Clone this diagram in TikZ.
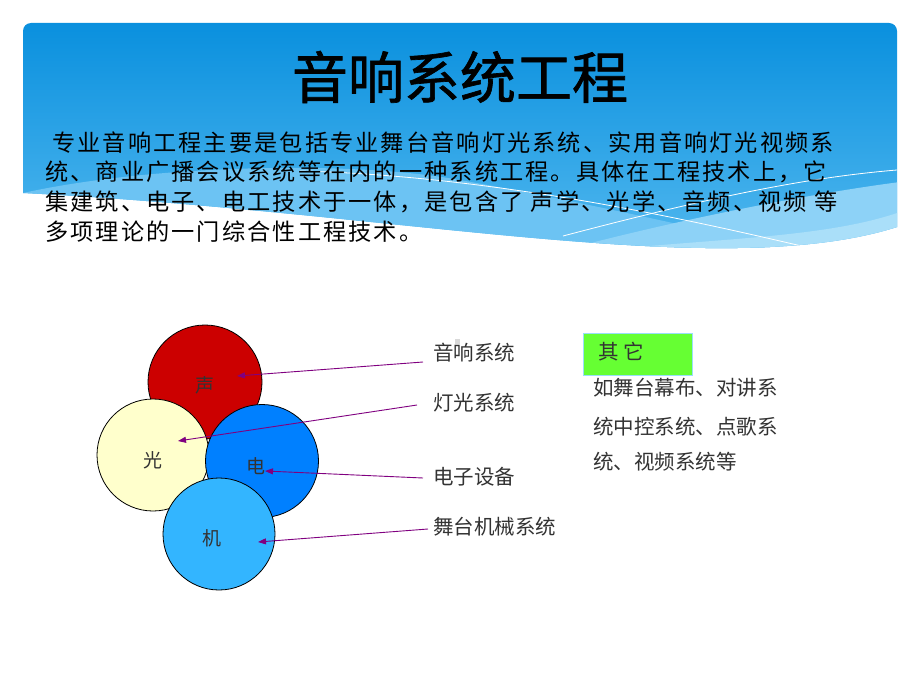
\documentclass[tikz,border=0pt]{standalone}
\usepackage{fontspec}
\setmainfont{Noto Sans CJK SC}
\newfontfamily\titlefont[FakeBold=1.2]{Noto Sans CJK SC}
\newfontfamily\bodyfont[LetterSpace=9]{Noto Sans CJK SC}
\usetikzlibrary{arrows.meta}
\definecolor{bannertop}{HTML}{0A90DE}
\definecolor{bannerbot}{HTML}{5ABDF1}
\definecolor{bandA}{HTML}{6CC3F3}
\definecolor{bandB}{HTML}{8DD2F7}
\definecolor{bandC}{HTML}{AADFF9}
\definecolor{cred}{HTML}{CC0000}
\definecolor{cyellow}{HTML}{FFFFCC}
\definecolor{cblue}{HTML}{0080FF}
\definecolor{clight}{HTML}{33B5FF}
\definecolor{arrowc}{HTML}{800080}
\definecolor{labelc}{HTML}{333333}
\definecolor{greenbox}{HTML}{66FF33}
\tikzset{
  circ/.style={circle, draw=black, line width=0.8pt, minimum size=#1, inner sep=0pt},
  ctext/.style={font=\fontsize{19}{21}\selectfont, text=labelc},
  lab/.style={anchor=west, font=\fontsize{20.5}{22}\selectfont, text=labelc, inner sep=0pt},
  body/.style={anchor=west, font=\bodyfont\fontsize{23.2}{27}\selectfont, inner sep=0pt},
  pointer/.style={draw=arrowc, line width=0.9pt, -{Triangle[length=8pt,width=6pt]}},
  other/.style={anchor=west, font=\fontsize{20.5}{22}\selectfont, text=labelc, inner sep=0pt},
}
\begin{document}
\begin{tikzpicture}[x=1pt,y=-1pt]
\useasboundingbox (0,0) rectangle (920,690);
\fill[white] (0,0) rectangle (920,690);
% banner
\def\bannerpath{(23,193) -- (23,31) arc(180:270:8) -- (889,23) arc(270:360:8) -- (897,227) .. controls (720,283) and (400,212) .. (23,193) -- cycle}
\shade[top color=bannertop, bottom color=bannerbot] \bannerpath;
\begin{scope}
\clip \bannerpath;
\fill[bandA] (23,193) .. controls (150,165) and (350,160) .. (460,180) .. controls (600,205) and (750,240) .. (840,262) -- (900,300) -- (0,300) -- cycle;
\fill[bandB] (520,262) .. controls (650,225) and (800,195) .. (900,182) -- (900,300) -- (500,300) -- cycle;
\fill[bandC] (560,255) .. controls (700,238) and (820,240) .. (900,212) -- (900,300) -- (540,300) -- cycle;
\draw[white, line width=0.8pt] (300,171) .. controls (500,176) and (700,222) .. (827,252);
\draw[white, line width=0.8pt] (563,236) .. controls (700,200) and (800,178) .. (897,170);
\end{scope}
% title
\node[font=\titlefont\fontsize{56}{60}\selectfont, inner sep=0pt] (title) at (460,77) {音响系统工程};
% body
\node[body] (l1) at (52,143) {专业音响工程主要是包括专业舞台音响灯光系统、实用音响灯光视频系};
\node[body] (l2) at (45,172) {统、商业广播会议系统等在内的一种系统工程。具体在工程技术上，它};
\node[body] (l3) at (45,202) {集建筑、电子、电工技术于一体，是包含了 声学、光学、音频、视频 等};
\node[body] (l4) at (45,232) {多项理论的一门综合性工程技术。};
% circles
\node[circ=114pt, fill=cred] (sheng) at (205,382) {};
\node[circ=112pt, fill=cyellow] (guang) at (153,455) {};
\node[circ=113pt, fill=cblue] (dian) at (262,461) {};
\node[circ=112pt, fill=clight] (ji) at (219,534) {};
\node[ctext] (tsheng) at (205,385) {声};
\node[ctext] (tguang) at (153,460) {光};
\node[ctext] (tdian) at (256,466) {电};
\node[ctext] (tji) at (212,538) {机};
% labels
\node[lab] (a) at (433,353) {音响系统};
\node[lab] (b) at (433,403) {灯光系统};
\node[lab] (c) at (433,477) {电子设备};
\node[lab] (d) at (433,527) {舞台机械系统};
\fill[black!15] (455,339) rectangle (460,344);
% arrow anchor points
\coordinate (as) at (423,362);
\coordinate (ae) at (237,376);
\coordinate (bs) at (417,405);
\coordinate (be) at (178,441);
\coordinate (cs) at (423,478);
\coordinate (ce) at (265,471);
\coordinate (ds) at (428,529);
\coordinate (de) at (258,542);
\draw[pointer] (as) -- (ae);
\draw[pointer] (bs) -- (be);
\draw[pointer] (cs) -- (ce);
\draw[pointer] (ds) -- (de);
% other box
\node[draw=cyan!40, fill=greenbox, minimum width=109pt, minimum height=42pt, anchor=north west, inner sep=0pt] (gbox) at (583,333) {};
\node[other] (qt) at (598,352) {其 它};
\node[other] (o1) at (593,388) {如舞台幕布、对讲系};
\node[other] (o2) at (593,427) {统中控系统、点歌系};
\node[other] (o3) at (593,462) {统、视频系统等};
\end{tikzpicture}
\end{document}
